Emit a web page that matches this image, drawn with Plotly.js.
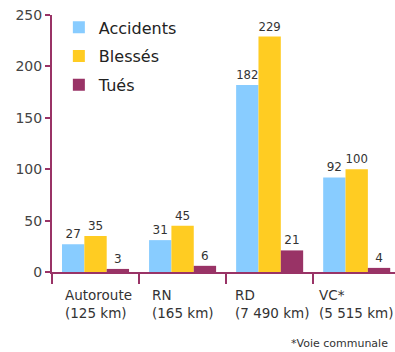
<!DOCTYPE html>
<html><head><meta charset="utf-8">
<script src="https://cdn.plot.ly/plotly-3.0.1.min.js"></script>
<style>html,body{margin:0;padding:0;background:#fff}#chart{width:395px;height:352px}</style>
</head><body><div id="chart"></div>
<script>
const categories = ["Autoroute", "RN", "RD", "VC*"];
const lengths = ["(125 km)", "(165 km)", "(7 490 km)", "(5 515 km)"];
const seriesNames = ["Accidents", "Blessés", "Tués"];
const accidents = [27, 31, 182, 92];
const blesses = [35, 45, 229, 100];
const tues = [3, 6, 21, 4];
const yTicks = [0, 50, 100, 150, 200, 250];
const footnote = "*Voie communale";

const colors = ["#88CCFF", "#FFCC22", "#993366"];
const axisColor = "#993366";
const FONT = "DejaVu Sans, Arial, sans-serif";
const values = [accidents, blesses, tues];
const labelShift = [11, 11, 7, 4];

const traces = values.map((v, i) => ({
  type: "bar",
  name: seriesNames[i],
  legendgroup: "g" + i,
  x: categories,
  y: v,
  text: v.map(String),
  textposition: "outside",
  cliponaxis: false,
  textfont: {family: FONT, size: 12, color: "#333333"},
  marker: {color: colors[i]},
  hoverinfo: "x+y+name"
}));

const annotations = categories.map((c, i) => ({
  x: i - 0.5, xref: "x", y: 0, yref: "y",
  text: c + "<br>" + lengths[i],
  showarrow: false, xanchor: "left", yanchor: "top",
  xshift: labelShift[i], yshift: -13, align: "left",
  font: {family: FONT, size: 13.5, color: "#333333"}
}));
annotations.push({
  x: 1, xref: "paper", y: 0, yref: "paper",
  text: footnote, showarrow: false, xanchor: "left", yanchor: "top",
  xshift: -106, yshift: -63,
  font: {family: FONT, size: 11, color: "#333333"}
});

const layout = {
  width: 395, height: 352,
  margin: {l: 52, r: 0, t: 15, b: 80},
  paper_bgcolor: "#ffffff", plot_bgcolor: "#ffffff",
  barmode: "group", bargap: 0.23, bargroupgap: 0,
  showlegend: true,
  legend: {x: 0.02, y: 1.018, xanchor: "left", yanchor: "top",
    font: {family: FONT, size: 16, color: "#222222"},
    tracegroupgap: 5, bgcolor: "rgba(0,0,0,0)", traceorder: "grouped"},
  xaxis: {type: "category", range: [-0.5, 3.44], showline: true, linecolor: axisColor, linewidth: 2,
    ticks: "outside", tickson: "boundaries", ticklen: 10, tickwidth: 2, tickcolor: axisColor,
    showticklabels: false, showgrid: false, zeroline: false, fixedrange: true},
  yaxis: {range: [0, 250], tickvals: yTicks, showline: true, linecolor: axisColor, linewidth: 2,
    ticks: "outside", ticklen: 5, tickwidth: 2, tickcolor: axisColor,
    tickfont: {family: FONT, size: 14, color: "#444444"},
    showgrid: false, zeroline: false, fixedrange: true},
  annotations: annotations
};

Plotly.newPlot("chart", traces, layout, {displayModeBar: false, staticPlot: true});
</script></body></html>
